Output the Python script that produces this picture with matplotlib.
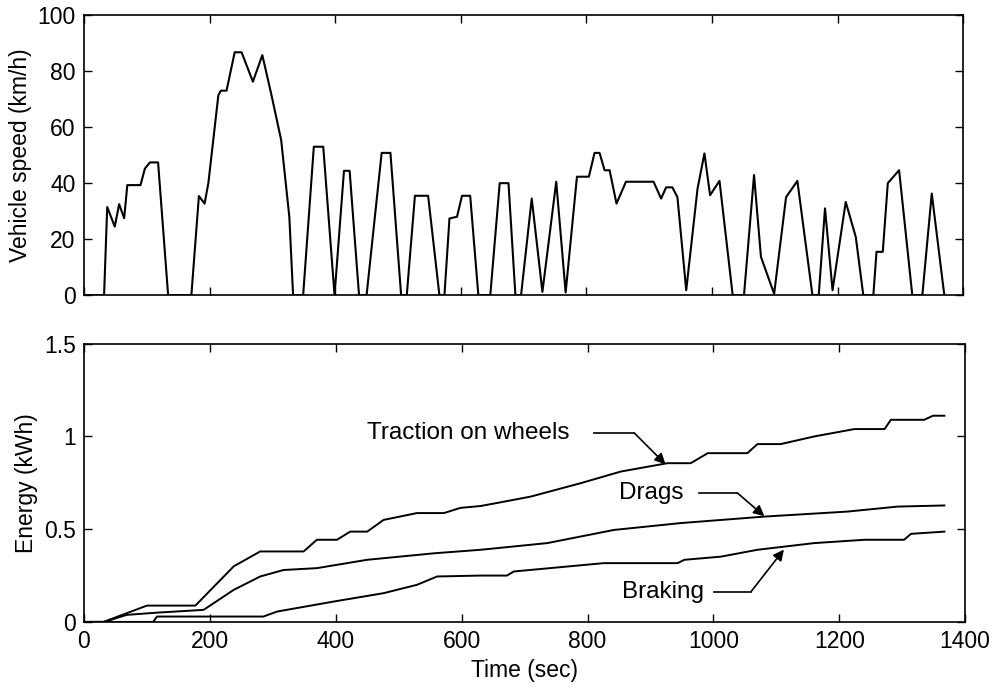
import numpy as np
import matplotlib.pyplot as plt

plt.rcParams['font.family'] = ['Liberation Sans', 'DejaVu Sans']
plt.rcParams['font.size'] = 16.5

# speed profile (sec, km/h)
speed_t = [0, 32, 37, 49, 56, 64, 69, 90, 97, 105, 118, 134,
           171, 183, 192, 198, 214, 218, 227, 240, 251, 269, 284, 298, 314, 327, 333,
           349, 366, 381, 399, 414, 423, 438, 450, 474, 488, 505,
           514, 527, 548, 566, 574, 582, 594, 602, 615, 628,
           647, 662, 676, 687, 696, 713, 730, 752, 767, 785, 804, 813, 821, 829, 837, 848, 863,
           907, 919, 927, 937, 945, 959, 977, 988, 997, 1012, 1033,
           1051, 1067, 1078, 1099, 1118, 1136, 1160, 1170, 1180, 1192, 1213, 1229, 1241,
           1257, 1262, 1272, 1280, 1298, 1319, 1335, 1350, 1370]
speed_v = [0, 0, 31.5, 24.5, 32.5, 27.5, 39.3, 39.3, 45.2, 47.4, 47.4, 0,
           0, 35.4, 32.7, 39.9, 71.4, 73, 73, 86.7, 86.7, 76.2, 85.7, 72, 55.4, 28, 0,
           0, 53, 53, 0, 44.4, 44.4, 0, 0, 50.8, 50.8, 0,
           0, 35.5, 35.5, 0, 0, 27.4, 28, 35.5, 35.5, 0,
           0, 40, 40, 0, 0, 34.5, 1.2, 40.5, 1, 42.3, 42.3, 50.8, 50.8, 44.6, 44.6, 32.7, 40.5,
           40.5, 34.5, 38.5, 38.5, 35, 1.8, 38, 50.6, 35.7, 40.8, 0,
           0, 42.9, 13.7, 0.5, 35, 40.8, 0, 0, 31, 1.8, 33.3, 20.8, 0,
           0, 15.5, 15.5, 40, 44.6, 0, 0, 36.3, 0]

# energy curves (sec, kWh)
traction_t = [0, 31, 100, 177, 238, 280, 349, 370, 402, 423, 450, 476, 529, 572, 598, 630,
              662, 710, 789, 853, 927, 964, 991, 1054, 1070, 1107, 1160, 1224, 1272, 1282,
              1335, 1349, 1367]
traction_e = [0, 0, 0.088, 0.088, 0.30, 0.38, 0.38, 0.443, 0.443, 0.487, 0.487, 0.55, 0.587,
              0.587, 0.615, 0.625, 0.645, 0.676, 0.748, 0.811, 0.856, 0.856, 0.91, 0.91,
              0.959, 0.959, 1.0, 1.04, 1.04, 1.09, 1.09, 1.112, 1.112]
drags_t = [0, 32, 68, 116, 190, 238, 280, 317, 370, 450, 556, 630, 736, 842, 948, 1081,
           1213, 1293, 1367]
drags_e = [0, 0, 0.038, 0.05, 0.065, 0.173, 0.245, 0.28, 0.29, 0.335, 0.37, 0.389, 0.425,
           0.496, 0.533, 0.568, 0.595, 0.622, 0.628]
braking_t = [0, 110, 116, 285, 307, 397, 476, 529, 561, 630, 672, 683, 826, 943, 954, 1012,
             1070, 1160, 1240, 1303, 1314, 1367]
braking_e = [0, 0, 0.029, 0.029, 0.056, 0.11, 0.155, 0.2, 0.245, 0.25, 0.25, 0.272, 0.317,
             0.317, 0.335, 0.352, 0.389, 0.425, 0.443, 0.443, 0.475, 0.487]

fig = plt.figure(figsize=(9.95, 6.98), dpi=100)
ax1 = fig.add_axes([0.0844, 0.577, 0.8836, 0.4015])
ax2 = fig.add_axes([0.0844, 0.109, 0.8856, 0.3985])

for ax in (ax1, ax2):
    ax.tick_params(direction='in', top=True, right=True, length=6, width=1, pad=6)
    for s in ax.spines.values():
        s.set_linewidth(1.2)
    ax.set_xlim(0, 1400)

ax1.plot(speed_t, speed_v, color='black', lw=1.5)
ax1.set_ylim(0, 100)
ax1.set_yticks(np.arange(0, 101, 20))
ax1.set_xticks(np.arange(0, 1401, 200))
ax1.set_xticklabels([])
ax1.set_ylabel('Vehicle speed (km/h)')

ax2.plot(traction_t, traction_e, color='black', lw=1.4)
ax2.plot(drags_t, drags_e, color='black', lw=1.4)
ax2.plot(braking_t, braking_e, color='black', lw=1.4)
ax2.set_ylim(0, 1.5)
ax2.set_yticks([0, 0.5, 1, 1.5])
ax2.set_yticklabels(['0', '0.5', '1', '1.5'])
ax2.set_xticks(np.arange(0, 1401, 200))
ax2.set_ylabel('Energy (kWh)')
ax2.set_xlabel('Time (sec)')

arrow = dict(arrowstyle='-|>', color='black', lw=1.2, mutation_scale=16, shrinkA=0, shrinkB=0)

def label(text, tx, ty, x0, x1, xa, ya):
    ax2.text(tx, ty, text, ha='left', va='center', fontsize=17.5)
    ax2.plot([x0, x1], [ty, ty], color='black', lw=1.2)
    ax2.annotate('', xy=(xa, ya), xytext=(x1, ty), arrowprops=arrow)

label('Traction on wheels', 450, 1.02, 810, 874, 924, 0.85)
label('Drags', 850, 0.696, 977, 1038, 1081, 0.57)
label('Braking', 855, 0.164, 1001, 1060, 1112, 0.39)

fig.savefig('out.png', dpi=100)
